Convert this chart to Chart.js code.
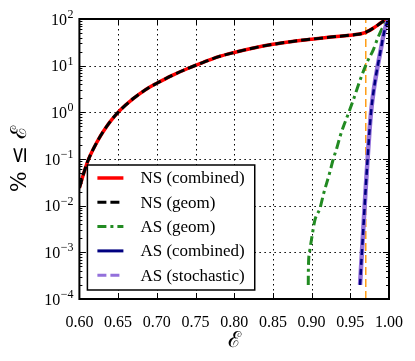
<!DOCTYPE html>
<html><head><meta charset="utf-8">
<script src="https://cdn.jsdelivr.net/npm/chart.js@4/dist/chart.umd.min.js"></script>
<style>html,body{margin:0;padding:0;background:#fff}#wrap{width:415px;height:361px}</style>
</head><body><div id="wrap"><canvas id="c" width="415" height="361"></canvas></div>
<script>
// ---- data ----
const nsX = [0.600,0.605,0.610,0.615,0.620,0.625,0.630,0.640,0.650,0.660,0.670,0.680,0.690,0.700,0.720,0.740,0.760,0.780,0.800,0.825,0.850,0.875,0.900,0.925,0.950,0.960,0.965,0.970,0.975,0.980,0.985,0.990,0.995,1.000];
const nsCombined = [0.024,0.046,0.083,0.13,0.19,0.27,0.37,0.64,1.0,1.45,2.0,2.65,3.4,4.2,6.2,8.7,11.8,15.6,19.2,24,28.7,33,37,41,45,47,49,52,57,64,73,84,94,100];
const nsGeom = [0.024,0.046,0.083,0.13,0.19,0.27,0.37,0.64,1.0,1.45,2.0,2.65,3.4,4.2,6.2,8.7,11.8,15.6,19.2,24,28.7,33,37,41,45,47,49,52,57,64,73,84,94,100];
const asGeomX = [0.8957,0.8958,0.8971,0.9001,0.9044,0.9109,0.9151,0.9238,0.9280,0.9325,0.9367,0.9410,0.9454,0.9540,0.9626,0.9710,0.9797,0.9862,0.9927,1.0000];
const asGeom = [2.0e-4,3.9e-4,9.5e-4,2.0e-3,5.0e-3,8.9e-3,1.7e-2,5.4e-2,0.10,0.17,0.30,0.49,0.76,1.86,4.9,11.2,21.9,41.7,69,100];
const asX = [0.9626,0.9650,0.9675,0.9700,0.9725,0.9750,0.9775,0.9800,0.9825,0.9850,0.9875,0.9900,0.9925,0.9950,0.9975,1.0000];
const asCombined = [2.0e-4,1.0e-3,5.0e-3,2.5e-2,0.11,0.45,1.3,2.8,5.2,9.1,15.1,25,42,63,83,100];
const asStochastic = [2.0e-4,1.0e-3,5.0e-3,2.5e-2,0.11,0.45,1.3,2.8,5.2,9.1,15.1,25,42,63,83,100];
const cutX = [0.97,0.97];
const cutY = [1e-4,1e2];
const xTicks = [0.60,0.65,0.70,0.75,0.80,0.85,0.90,0.95,1.00];
const yTickExps = [-4,-3,-2,-1,0,1,2];
const seriesLabels = ['NS (combined)','NS (geom)','AS (geom)','AS (combined)','AS (stochastic)'];

const SERIF = '"Liberation Serif","DejaVu Serif",serif';
const SCRIPT = '"DejaVu Serif","Liberation Serif",serif';
const pts = (xs, ys) => xs.map((x,i)=>({x, y: ys[i]}));

const legendStyles = [
  {color:'#ff0000', width:3.5, dash:[]},
  {color:'#000000', width:3, dash:[9,4]},
  {color:'#228b22', width:3, dash:[9,4,3,4]},
  {color:'#000080', width:3, dash:[]},
  {color:'#9370db', width:3, dash:[9,4]}
];

const frameTicks = {
  id:'frameTicks',
  beforeDatasetsDraw(chart){
    const {ctx, chartArea:a, scales:{x,y}} = chart;
    ctx.save();
    ctx.strokeStyle='#000'; ctx.lineWidth=1; ctx.setLineDash([1.5,3.5]);
    x.ticks.forEach(t=>{
      if (t.value<=x.min+1e-9 || t.value>=x.max-1e-9) return;
      const px=Math.round(x.getPixelForValue(t.value))+0.5;
      ctx.beginPath(); ctx.moveTo(px,a.top); ctx.lineTo(px,a.bottom); ctx.stroke();
    });
    y.ticks.forEach(t=>{
      if (t.value<=y.min*1.0001 || t.value>=y.max*0.9999) return;
      const py=Math.round(y.getPixelForValue(t.value))+0.5;
      ctx.beginPath(); ctx.moveTo(a.left,py); ctx.lineTo(a.right,py); ctx.stroke();
    });
    ctx.restore();
  },
  afterDraw(chart){
    const {ctx, chartArea:a, scales:{x,y}} = chart;
    ctx.save();
    ctx.setLineDash([]);
    ctx.strokeStyle='#000';
    ctx.lineWidth=1;
    ctx.beginPath();
    x.ticks.forEach(t=>{
      const px=Math.round(x.getPixelForValue(t.value))+0.5;
      ctx.moveTo(px,a.bottom); ctx.lineTo(px,a.bottom-6);
      ctx.moveTo(px,a.top); ctx.lineTo(px,a.top+6);
    });
    y.ticks.forEach(t=>{
      const py=Math.round(y.getPixelForValue(t.value))+0.5;
      ctx.moveTo(a.left,py); ctx.lineTo(a.left+6,py);
      ctx.moveTo(a.right,py); ctx.lineTo(a.right-6,py);
    });
    for (let e=yTickExps[0]; e<yTickExps[yTickExps.length-1]; e++){
      for (let m=2; m<=9; m++){
        const py=Math.round(y.getPixelForValue(m*Math.pow(10,e)))+0.5;
        ctx.moveTo(a.left,py); ctx.lineTo(a.left+3,py);
        ctx.moveTo(a.right,py); ctx.lineTo(a.right-3,py);
      }
    }
    ctx.stroke();
    ctx.lineWidth=2;
    ctx.strokeRect(a.left,a.top,a.right-a.left,a.bottom-a.top);
    ctx.fillStyle='#000';
    ctx.textBaseline='alphabetic';
    yTickExps.forEach(e=>{
      const py=y.getPixelForValue(Math.pow(10,e));
      const expStr = e<0 ? '\u2212'+Math.abs(e) : String(e);
      ctx.font='12px '+SERIF;
      const ew=ctx.measureText(expStr).width;
      const right=a.left-6;
      ctx.textAlign='right';
      ctx.fillText(expStr, right, py-1);
      ctx.font='16px '+SERIF;
      ctx.fillText('10', right-ew-0.5, py+5.5);
    });
    ctx.font='17px '+SERIF;
    let tw=0; seriesLabels.forEach(s=>{tw=Math.max(tw,ctx.measureText(s).width);});
    const bx=a.left+8, bw=53+tw+10, bh=125, by=a.bottom-9-bh;
    ctx.fillStyle='#fff'; ctx.fillRect(bx,by,bw,bh);
    ctx.lineWidth=1.5; ctx.strokeStyle='#000'; ctx.strokeRect(bx,by,bw,bh);
    seriesLabels.forEach((s,i)=>{
      const ry=by+13+i*24.3;
      const st=legendStyles[i];
      ctx.strokeStyle=st.color; ctx.lineWidth=st.width; ctx.setLineDash(st.dash); ctx.lineCap='butt';
      ctx.beginPath(); ctx.moveTo(bx+10,ry); ctx.lineTo(bx+36,ry); ctx.stroke();
      ctx.setLineDash([]);
      ctx.fillStyle='#000'; ctx.textAlign='left'; ctx.textBaseline='middle';
      ctx.fillText(s,bx+53,ry+1);
    });
    ctx.restore();
  }
};

new Chart(document.getElementById('c'), {
  type:'line',
  data:{datasets:[
    {label:seriesLabels[0], data:pts(nsX,nsCombined), borderColor:'#ff0000', borderWidth:3.5, order:5},
    {label:seriesLabels[1], data:pts(nsX,nsGeom), borderColor:'#000000', borderWidth:3, borderDash:[9,4], order:4},
    {label:seriesLabels[2], data:pts(asGeomX,asGeom), borderColor:'#228b22', borderWidth:3, borderDash:[9,4,3,4], order:3},
    {label:seriesLabels[3], data:pts(asX,asCombined), borderColor:'#000080', borderWidth:2.5, borderDash:[6,4], order:1},
    {label:seriesLabels[4], data:pts(asX,asStochastic), borderColor:'#9370db', borderWidth:4.5, order:2},
    {label:'cut', data:pts(cutX,cutY), borderColor:'#ff9f1a', borderWidth:1.5, borderDash:[8,4], order:10, cubicInterpolationMode:'default', tension:0}
  ]},
  options:{
    responsive:false, animation:false, devicePixelRatio:1,
    elements:{point:{radius:0}, line:{cubicInterpolationMode:'monotone', fill:false, borderCapStyle:'butt'}},
    layout:{padding:{left:0, top:19, right:26, bottom:0}},
    plugins:{legend:{display:false}, tooltip:{enabled:false}},
    scales:{
      x:{type:'linear', min:0.6, max:1.0,
        afterBuildTicks:s=>{s.ticks=xTicks.map(v=>({value:v}));},
        ticks:{callback:v=>Number(v).toFixed(2), font:{family:SERIF,size:16}, color:'#000', padding:6, maxRotation:0, autoSkip:false},
        grid:{display:false}, border:{display:false},
        title:{display:true, text:'\u2130', font:{family:SCRIPT,size:22,weight:'normal'}, color:'#000', padding:{top:0,bottom:7}},
        afterFit:s=>{s.height=62;}
      },
      y:{type:'logarithmic', min:1e-4, max:1e2,
        afterBuildTicks:s=>{s.ticks=yTickExps.map(e=>({value:Math.pow(10,e)}));},
        ticks:{display:false},
        grid:{display:false}, border:{display:false},
        title:{display:true, text:'% \u2264 \u2130', font:{family:SCRIPT,size:22,weight:'normal'}, color:'#000', padding:{top:7,bottom:0}},
        afterFit:s=>{s.width=79.4;}
      }
    }
  },
  plugins:[frameTicks]
});
</script></body></html>
